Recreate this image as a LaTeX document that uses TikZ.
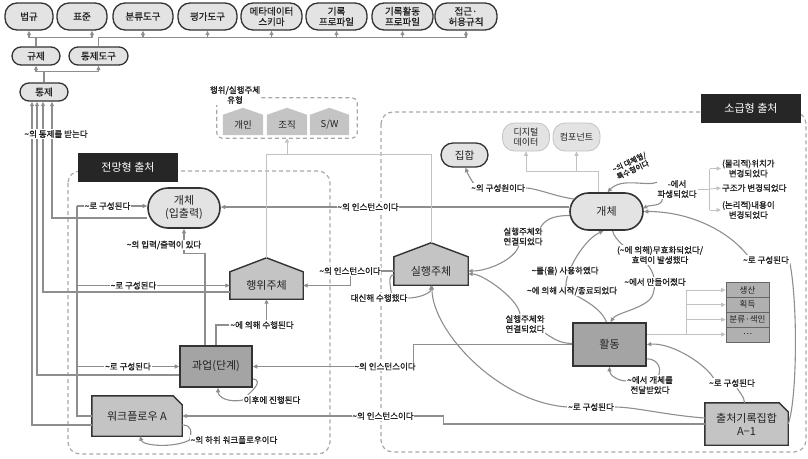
\documentclass[tikz,border=0pt]{standalone}
\usepackage{fontspec}
\setmainfont{Noto Sans CJK KR}
\newfontfamily\bfont{Noto Sans CJK KR}[FakeBold=1.1]
\newfontfamily\mfont{Noto Sans CJK KR}[FakeBold=0.5]
\usetikzlibrary{arrows.meta,calc}
\newcommand{\mytilde}{\textasciitilde}
\definecolor{ln}{HTML}{8E8E8E}
\definecolor{lnl}{HTML}{C2C2C2}
\definecolor{bd}{HTML}{333333}
\definecolor{fl}{HTML}{E3E3E3}
\definecolor{fm}{HTML}{C4C4C4}
\definecolor{fd}{HTML}{A4A4A4}
\definecolor{dsh}{HTML}{A8A8A8}
\definecolor{tx}{HTML}{222222}
\pgfdeclarelayer{bg}
\pgfsetlayers{bg,main}
\begin{document}
\begin{tikzpicture}[x=1pt,y=-1pt,
  >={Triangle[length=4.5pt,width=4pt]},
  pilltop/.style={draw=bd,line width=1.3pt,fill=fl,rounded corners=12pt,minimum height=27pt,inner sep=0pt,align=center,font=\mfont\fontsize{9.5}{10.5}\selectfont,text=tx},
  pillsm/.style={draw=bd,line width=1.3pt,fill=fl,rounded corners=9pt,minimum height=18pt,inner sep=0pt,font=\mfont\fontsize{9.5}{10.5}\selectfont,text=tx},
  pillbig/.style={draw=bd,line width=1.6pt,fill=fl,inner sep=0pt,align=center,font=\fontsize{11}{13}\selectfont,text=tx},
  pilllt/.style={draw=lnl,line width=0.8pt,fill=fl,rounded corners=12pt,minimum height=28pt,minimum width=47pt,inner sep=0pt,align=center,font=\fontsize{9}{10}\selectfont,text=tx},
  boxdark/.style={draw=bd,line width=1.6pt,fill=fd,inner sep=0pt,font=\fontsize{11}{13}\selectfont,text=tx},
  txtnode/.style={inner sep=0pt,align=center,font=\fontsize{11}{13}\selectfont,text=tx},
  shapefill/.style={draw=bd,line width=1.4pt,fill=fm,line join=miter},
  conn/.style={draw=ln,line width=1.1pt},
  thinln/.style={draw=lnl,line width=0.8pt},
  dashbox/.style={draw=dsh,line width=1.2pt,dash pattern=on 4pt off 3pt,rounded corners=12pt},
  lbl/.style={fill=white,inner sep=0.8pt,align=center,font=\bfont\fontsize{8.5}{10}\selectfont,text=tx},
  blackbox/.style={fill=black!85,text=white,inner sep=0pt,minimum width=100pt,minimum height=29pt,font=\fontsize{11}{12}\selectfont},
  stackbox/.style={draw=black!60,line width=0.6pt,fill=fm!90!black,minimum width=43pt,minimum height=14.8pt,inner sep=0pt,font=\fontsize{8.5}{9}\selectfont,text=tx},
]
\useasboundingbox (0,0) rectangle (808,458);
% ---------------- nodes
\node[pilltop,minimum width=48pt] (n1) at (29,16.5) {법규};
\node[pilltop,minimum width=50pt] (n2) at (82,16.5) {표준};
\node[pilltop,minimum width=60pt] (n3) at (143,16.5) {분류도구};
\node[pilltop,minimum width=59pt] (n4) at (207.5,16.5) {평가도구};
\node[pilltop,minimum width=61pt] (n5) at (271.5,16.5) {메타데이터\\스키마};
\node[pilltop,minimum width=61pt] (n6) at (336.5,16.5) {기록\\프로파일};
\node[pilltop,minimum width=61pt] (n7) at (402.5,16.5) {기록활동\\프로파일};
\node[pilltop,minimum width=62pt] (n8) at (466,16.5) {접근·\\허용규칙};
\node[pillsm,minimum width=48pt] (gj) at (36,56) {규제};
\node[pillsm,minimum width=59pt] (tjd) at (98.5,56) {통제도구};
\node[pillsm,minimum width=48pt] (tj) at (44,92) {통제};

\node[pillbig,rounded corners=20pt,minimum width=72pt,minimum height=40pt] (ent) at (184,208) {개체\\(입출력)};
\node[txtnode,minimum width=73pt,minimum height=27pt] (hw) at (266.5,285.5) {행위주체};
\node[boxdark,minimum width=72pt,minimum height=41pt] (gw) at (216,366.5) {과업(단계)};
\node[txtnode,minimum width=90pt,minimum height=40pt] (wf) at (137,416) {워크플로우 A};

\node[minimum width=140pt,minimum height=40pt,inner sep=0pt] (tb) at (287,118) {};
\node[txtnode,minimum width=40pt,minimum height=20pt,font=\fontsize{9.5}{10}\selectfont] (p1) at (243,125) {개인};
\node[txtnode,minimum width=40pt,minimum height=20pt,font=\fontsize{9.5}{10}\selectfont] (p2) at (287,125) {조직};
\node[txtnode,minimum width=39pt,minimum height=20pt,font=\fontsize{9.5}{10}\selectfont] (p3) at (329.5,125) {S/W};

\node[pillbig,rounded corners=18.5pt,minimum width=73pt,minimum height=37pt] (gc) at (606.5,211.5) {개체};
\node[pillsm,rounded corners=12pt,minimum width=47pt,minimum height=24pt,font=\fontsize{10.5}{11}\selectfont] (jh) at (464.5,155) {집합};
\node[pilllt] (dd) at (526,137) {디지털\\데이터};
\node[pilllt] (cp) at (576.5,137) {컴포넌트};
\node[txtnode,minimum width=74pt,minimum height=28pt] (sh) at (431,271) {실행주체};
\node[boxdark,minimum width=73pt,minimum height=43pt] (hd) at (609.5,344.5) {활동};
\node[txtnode,minimum width=83pt,minimum height=42pt] (cc) at (746.5,424) {출처기록집합\\A−1};
\node[stackbox] (s1) at (747.5,290) {생산};
\node[stackbox] (s2) at (747.5,304.8) {획득};
\node[stackbox] (s3) at (747.5,319.6) {분류·색인};
\node[stackbox] (s4) at (747.5,334.4) {…};

\node[blackbox] (bx1) at (128,167.5) {전망형 출처};
\node[blackbox] (bx2) at (751,108.5) {소급형 출처};

% ---------------- labels
\node[lbl] (ltj) at (56,134) {\mytilde 의 통제를 받는다};
\node[lbl,font=\bfont\fontsize{8.5}{10}\selectfont] (ltype) at (235,95) {행위/실행주체\\유형};
\node[lbl] (lc1) at (107.5,206) {\mytilde 로 구성된다};
\node[lbl] (lc2) at (133.5,285.5) {\mytilde 로 구성된다};
\node[lbl] (lc3) at (128,366.5) {\mytilde 로 구성된다};
\node[lbl] (lio) at (164,245) {\mytilde 의 입력/출력이 있다};
\node[lbl] (lsh) at (262,325) {\mytilde 에 의해 수행된다};
\node[lbl] (lihu) at (272,400) {이후에 진행된다};
\node[lbl] (lhawi) at (234,440) {\mytilde 의 하위 워크플로우이다};
\node[lbl] (i1) at (368,207) {\mytilde 의 인스턴스이다};
\node[lbl] (i2) at (350,271) {\mytilde 의 인스턴스이다};
\node[lbl] (i3) at (385,366.5) {\mytilde 의 인스턴스이다};
\node[lbl] (i4) at (383,416) {\mytilde 의 인스턴스이다};
\node[lbl] (lgs) at (498,188) {\mytilde 의 구성원이다};
\node[lbl,fill=none,rotate=25,inner sep=0pt,font=\bfont\fontsize{7.5}{8.5}\selectfont] (ldc) at (631,166) {\mytilde 의 대체형/\\특수형이다};
\node[lbl] (lpd) at (677,189) {-에서\\파생되었다};
\node[lbl,anchor=west] (d1) at (721,168.5) {(물리적)위치가\\변경되었다};
\node[lbl,anchor=west] (d2) at (721,188) {구조가 변경되었다};
\node[lbl,anchor=west] (d3) at (721,210) {(논리적)내용이\\변경되었다};
\node[lbl] (lk1) at (523,236.5) {실행주체와\\연결되었다};
\node[lbl] (lk2) at (525,324) {실행주체와\\연결되었다};
\node[lbl] (lds) at (379,298) {대신해 수행했다};
\node[lbl] (u1) at (565,271) {\mytilde 를(을) 사용하였다};
\node[lbl] (u2) at (572,291) {\mytilde 에 의해 시작/종료되었다};
\node[lbl] (u3) at (660,255) {(\mytilde 에 의해)무효화되었다/\\효력이 발생했다};
\node[lbl] (u4) at (655,282) {\mytilde 에서 만들어졌다};
\node[lbl] (ljd) at (650,385) {\mytilde 에서 개체를\\전달받았다};
\node[lbl] (cr1) at (732,383) {\mytilde 로 구성된다};
\node[lbl] (cr2) at (591,407) {\mytilde 로 구성된다};
\node[lbl] (cr3) at (766,260) {\mytilde 로 구성된다};

% ---------------- background: regions, shapes, connectors
\begin{pgfonlayer}{bg}
\draw[dashbox] (68,171) rectangle (330,454);
\draw[dashbox] (381,112) rectangle (806,452);
\draw[dashbox,rounded corners=5pt] (tb.north west) rectangle (tb.south east);
\foreach \p in {p1,p2,p3}
  \fill[fm] (\p.south west) -- (\p.north west) -- ($(\p.north)+(0,-7)$) -- (\p.north east) -- (\p.south east) -- cycle;
\draw[shapefill] (hw.south west) -- (hw.north west) -- ($(hw.north)+(0,-14)$) coordinate (hwtop) -- (hw.north east) -- (hw.south east) -- cycle;
\draw[shapefill] (sh.south west) -- (sh.north west) -- ($(sh.north)+(0,-14)$) coordinate (shtop) -- (sh.north east) -- (sh.south east) -- cycle;
\draw[shapefill] (wf.south west) -- (wf.north west) -- ($(wf.north east)+(-9,0)$) -- ($(wf.north east)+(0,9)$) -- (wf.south east) -- cycle;
\draw[shapefill] (cc.south west) -- (cc.north west) -- ($(cc.north east)+(-9,0)$) -- ($(cc.north east)+(0,9)$) -- (cc.south east) -- cycle;

% top hierarchy
\draw[conn] (gj.north) -- ++(0,-9) coordinate (j1);
\draw[conn,->] (j1) -| (n1.south);
\draw[conn,->] (j1) -| ($(n2.south)+(10,0)$);
\draw[conn] (tjd.north) -- ++(0,-9) coordinate (j2);
\foreach \t in {n3,n4,n5,n6,n7,n8} \draw[conn,->] (j2) -| (\t.south);
\draw[conn] (tj.north) -- ++(0,-11) coordinate (j3);
\draw[conn,->] (j3) -| (gj.south);
\draw[conn,->] (j3) -| (tjd.south);

% control lines
\draw[conn,->] ($(wf.west)+(0,9)$) -| ($(tj.south)+(-12,0)$);
\draw[conn,->] ($(gw.west)+(0,8.5)$) -| ($(tj.south)+(-7,0)$);
\draw[conn,->] ($(hw.west)+(0,6.5)$) -| ($(tj.south)+(-1,0)$);
\draw[conn,->] ($(ent.west)+(0,10)$) -| ($(tj.south)+(8,0)$);

% composition
\coordinate (c0) at (77,206);
\draw[conn] (wf.west) -| (c0);
\draw[conn,->] (c0) -- (ent.west |- c0);
\draw[conn,->] (c0 |- hw.west) -- (hw.west);
\draw[conn,->] (c0 |- gw.west) -- (gw.west);

\draw[conn,->] ($(gw.north)+(-11,0)$) |- ($(ent.south)+(0,25)$) -- (ent.south);
\draw[conn] (gw.north) |- (lsh.west);
\draw[conn,->] (hw.south |- lsh.north) -- (hw.south);
\draw[conn,->] ($(gw.south east)+(0,-9)$) .. controls +(12,2) and +(8,-8) .. (lihu.west) .. controls +(-15,3) and +(0,9) .. ($(gw.south)+(2,0)$);
\draw[conn,->] ($(wf.east)+(0,9)$) .. controls +(10,0) and +(2,-8) .. (lhawi.west) .. controls +(-15,8) and +(3,10) .. ($(wf.south)+(3,0)$);

% instances
\draw[conn,->] ($(gc.west)+(0,-4.5)$) -- ($(ent.east)+(0,-1)$);
\draw[conn,->] (sh.west) -| ($(hw.east)+(47,0)$) -- (hw.east);
\draw[conn,->] (hd.west) -| ($(gw.east)+(161,0)$) -- (gw.east);
\draw[conn,->] (cc.west) -| ($(wf.east)+(261,0)$) -- (wf.east);

% types
\draw[thinln] (hwtop) -- ++(0,-103) coordinate (t1) -| (shtop);
\draw[thinln,->] (t1 -| tb.south) -- (tb.south);
\draw[thinln] ($(gc.north)+(-8,0)$) -- ++(0,-21) coordinate (t2);
\draw[thinln,->] (t2) -| (dd.south);
\draw[thinln,->] (t2 -| cp.south) -- (cp.south);

% derived
\draw[thinln] (lpd.east) -- ++(12,0) coordinate (b1);
\draw[thinln] (b1 |- d1.west) -- (b1 |- d3.west);
\draw[thinln,->] (b1 |- d1.west) -- (d1.west);
\draw[thinln,->] (b1) -- (d2.west);
\draw[thinln,->] (b1 |- d3.west) -- (d3.west);
\draw[conn,->] ($(lpd.south west)+(6,0)$) .. controls +(-1,8) and +(8,-4) .. ($(gc.east)+(-1,-3)$);
\draw[conn,->] (658,182) .. controls (647,187) and (622,177) .. ($(gc.north)+(1,0)$);

% stack
\draw[thinln] ($(hd.east)+(0,-10)$) -- ++(40,0) coordinate (b2);
\draw[thinln] (b2) -- (b2 |- s1.west);
\foreach \s in {s1,s2,s3,s4} \draw[thinln,->] (b2 |- \s.west) -- (\s.west);

% right curves
\draw[conn] ($(gc.west)+(4.5,-12.5)$) .. controls +(-20,-3) and +(10,0) .. (lgs.east);
\draw[conn,->] ($(lgs.north west)+(4,1)$) .. controls +(-3,-4) and +(2,6) .. ($(jh.south)+(1,0)$);
\draw[conn] ($(gc.west)+(1,4)$) .. controls +(-20,0) and +(5,-8) .. ($(lk1.north east)+(-4,2)$);
\draw[conn,->] ($(lk1.south)+(-4,-1)$) .. controls +(-4,14) and +(20,0) .. (sh.east);
\draw[conn] ($(hd.west)+(0,-1)$) .. controls +(-15,0) and +(8,4) .. ($(lk2.south east)+(-3,-2)$);
\draw[conn,->] ($(lk2.north)+(-5,1)$) .. controls +(0,-15) and +(15,0) .. ($(sh.east)+(0,3)$);
\draw[conn] ($(sh.west)+(0,4)$) .. controls +(-7,0) and +(0,-6) .. ($(lds.north east)+(-17,1)$);
\draw[conn,->] (lds.east) .. controls +(10,0) and +(0,8) .. (sh.south);
\draw[conn,->] ($(hd.north)+(-3,0)$) .. controls +(-6,-16) and +(12,8) .. (567,290) .. controls +(-6,-10) and +(-22,10) .. ($(gc.south)+(-3,0)$);
\draw[conn,->] ($(gc.south)+(6,0)$) .. controls +(2,9) and +(-12,-8) .. (640,258) .. controls +(14,9) and +(4,-12) .. (653,294) .. controls +(-4,14) and +(6,-10) .. ($(hd.north)+(1,0)$);
\draw[conn] ($(hd.south east)+(0,-8)$) .. controls +(12,0) and +(4,-6) .. ($(ljd.north)+(8,1)$);
\draw[conn,->] ($(ljd.west)+(1,-4)$) .. controls +(-10,0) and +(0,8) .. (hd.south);
\draw[conn] ($(cc.north)+(-2,0)$) .. controls +(0,-6) and +(2,4) .. ($(cr1.south)+(5,0)$);
\draw[conn,->] ($(cr1.north west)+(6,1)$) .. controls +(-8,-15) and +(25,-2) .. (hd.east);
\draw[conn] ($(cc.west)+(0,-6)$) .. controls +(-40,-3) and +(20,0) .. (cr2.east);
\draw[conn,->] (cr2.west) .. controls +(-70,-5) and +(0,45) .. ($(sh.south)+(1,0)$);
\draw[conn] (cc.east) .. controls +(9,-25) and +(8,40) .. ($(cr3.east)+(0,3)$);
\draw[conn,->] ($(cr3.north west)+(6,1)$) .. controls +(-20,-26) and +(45,0) .. (gc.east);
\end{pgfonlayer}
\end{tikzpicture}
\end{document}
